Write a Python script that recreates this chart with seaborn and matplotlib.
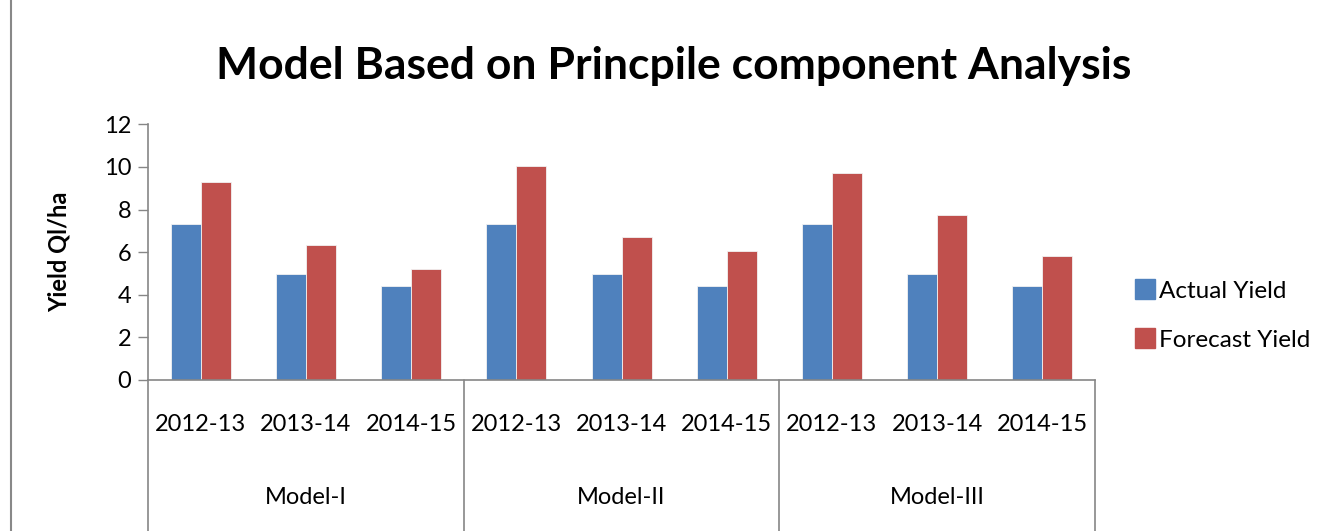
import matplotlib
matplotlib.use("Agg")
import matplotlib.pyplot as plt
import matplotlib.lines as mlines
import matplotlib.transforms as mtransforms
import pandas as pd
import seaborn as sns

models = ["Model-I", "Model-II", "Model-III"]
years = ["2012-13", "2013-14", "2014-15"]
actual = [7.31, 4.97, 4.43, 7.31, 4.97, 4.43, 7.31, 4.97, 4.43]
forecast = [9.31, 6.34, 5.21, 10.06, 6.71, 6.06, 9.73, 7.73, 5.82]

sns.set_style("white")
plt.rcParams["font.family"] = ["Lato", "DejaVu Sans"]
plt.rcParams["text.color"] = "black"
plt.rcParams["xtick.color"] = "black"
plt.rcParams["ytick.color"] = "black"
plt.rcParams["axes.labelcolor"] = "black"

keys = [m + " " + y for m in models for y in years]
df = pd.DataFrame({
    "key": keys * 2,
    "yield": actual + forecast,
    "series": ["Actual Yield"] * 9 + ["Forecast Yield"] * 9,
})

fig = plt.figure(figsize=(13.23, 5.31), dpi=100)
ax = fig.add_axes([0.1119, 0.2844, 0.7158, 0.4815])

palette = {"Actual Yield": "#4F81BD", "Forecast Yield": "#C0504D"}
sns.barplot(data=df, x="key", y="yield", hue="series", order=keys,
            palette=palette, width=0.57, saturation=1, edgecolor="#f2f2f2",
            linewidth=0.6, ax=ax, legend=False)

ax.set_xlim(-0.5, 8.5)
ax.set_ylim(0, 12)
ax.set_yticks(range(0, 13, 2))
ax.tick_params(axis="y", labelsize=17, length=7, width=1, color="#868686",
               labelcolor="black", direction="out", left=True, pad=5)
ax.tick_params(axis="x", length=0, labelsize=17, labelcolor="black", pad=32)
ax.set_xticks(range(9))
ax.set_xticklabels(years * 3)
for lab in ax.get_xticklabels():
    lab.set_va("center")
ax.set_xlabel("")
ax.set_ylabel("Yield Ql/ha", fontsize=17, fontweight="bold", labelpad=24)

for s in ["top", "right"]:
    ax.spines[s].set_visible(False)
for s in ["left", "bottom"]:
    ax.spines[s].set_color("#868686")
    ax.spines[s].set_linewidth(1.2)

trans = mtransforms.blended_transform_factory(ax.transData, ax.transAxes)
for xb in [-0.5, 2.5, 5.5, 8.5]:
    ax.plot([xb, xb], [0, -0.6], transform=trans, color="#868686",
            lw=1.2, clip_on=False)
for i, m in enumerate(models):
    ax.text(i * 3 + 1, -0.46, m, transform=trans, ha="center", va="center",
            fontsize=17)

handles = [mlines.Line2D([], [], marker="s", linestyle="", markersize=14,
                         color=palette[k]) for k in palette]
fig.legend(handles, list(palette), loc="center left",
           bbox_to_anchor=(0.84, 0.405), frameon=False, fontsize=17.5,
           handletextpad=0.05, labelspacing=1.15, handlelength=1.0)

fig.suptitle("Model Based on Princpile component Analysis", fontsize=32,
             fontweight="bold", x=0.509, y=0.875, va="center")

fig.add_artist(mlines.Line2D([0.008, 0.008], [0, 1], color="#888888", lw=1.5))

fig.savefig("out.png", dpi=100)
